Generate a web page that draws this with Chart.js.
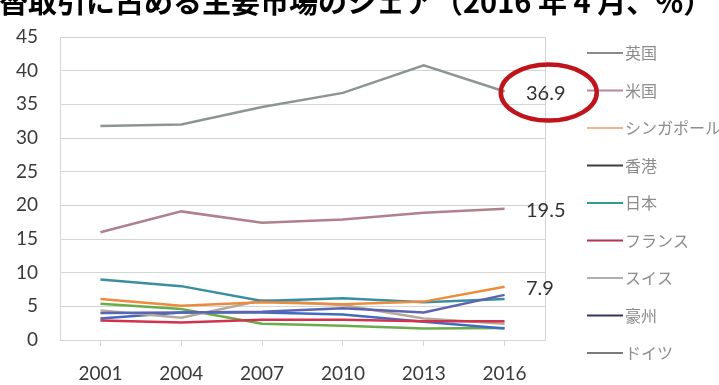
<!DOCTYPE html>
<html lang="ja">
<head>
<meta charset="utf-8">
<script src="https://cdn.jsdelivr.net/npm/chart.js@4.4.1/dist/chart.umd.min.js"></script>
<style>
    html, body { margin: 0; padding: 0; background: #fff; overflow: hidden; }
    #wrap { position: relative; width: 719px; height: 385px; overflow: hidden; }
    #title {
        position: absolute; left: -88px; top: -14px; white-space: nowrap;
        font: bold 29px/29px "Noto Sans CJK JP"; color: #000; z-index: 2;
    }
    #chart { position: absolute; left: 0; top: 0; }
</style>
</head>
<body>
<div id="wrap">
    <div id="title">外国為替取引に占める主要市場のシェア（2016 年 4 月、%）</div>
    <canvas id="chart" width="719" height="385"></canvas>
</div>
<script>
// Data (share of FX turnover, %)
const years = ['2001', '2004', '2007', '2010', '2013', '2016'];
const seriesNames = ['英国', '米国', 'シンガポール', '香港', '日本', 'フランス', 'スイス', '豪州', 'ドイツ'];
const uk          = [31.8, 32.0, 34.6, 36.7, 40.8, 36.9];
const us          = [16.0, 19.1, 17.4, 17.9, 18.9, 19.5];
const singapore   = [6.1, 5.1, 5.6, 5.3, 5.7, 7.9];
const hongKong    = [4.0, 4.1, 4.2, 4.7, 4.1, 6.7];
const japan       = [9.0, 8.0, 5.8, 6.2, 5.6, 6.1];
const france      = [2.9, 2.6, 3.0, 3.0, 2.8, 2.8];
const switzerland = [4.4, 3.3, 5.9, 5.2, 3.2, 2.4];
const australia   = [3.2, 4.1, 4.1, 3.8, 2.7, 1.7];
const germany     = [5.4, 4.6, 2.4, 2.1, 1.7, 1.8];
const yTicks = [0, 5, 10, 15, 20, 25, 30, 35, 40, 45];

// series that get a value label at the right end; first one is circled
const calloutSeries = [0, 1, 2];

const seriesData = [uk, us, singapore, hongKong, japan, france, switzerland, australia, germany];
const seriesColors = ['#8c9595', '#b0808c', '#ee8a3c', '#5a64b0', '#3a8ea0', '#d2324e', '#b5aa9a', '#3f6cc0', '#6aac4c'];
const legendColors = ['#8a8a8a', '#b88a96', '#f3b487', '#3d3d3d', '#2f9e8c', '#b8314f', '#b0b0b0', '#34345e', '#7a7a7a'];

const fontFamily = "Lato, 'Noto Sans', sans-serif";

const sideLegend = {
    id: 'sideLegend',
    afterDraw(chart) {
        const ctx = chart.ctx;
        ctx.save();
        ctx.font = "16px 'Noto Sans CJK JP'";
        ctx.textBaseline = 'middle';
        ctx.textAlign = 'left';
        seriesNames.forEach((name, i) => {
            const y = 53 + i * 37.5;
            ctx.beginPath();
            ctx.moveTo(587, y);
            ctx.lineTo(623, y);
            ctx.strokeStyle = legendColors[i];
            ctx.lineWidth = 2;
            ctx.stroke();
            ctx.fillStyle = '#8c8c8c';
            ctx.fillText(name, 625, y);
        });
        ctx.restore();
    }
};

const callouts = {
    id: 'callouts',
    beforeDatasetsDraw(chart) {
        // right frame line of the plot area
        const ctx = chart.ctx;
        const a = chart.chartArea;
        ctx.save();
        ctx.strokeStyle = '#d4d4d4';
        ctx.lineWidth = 1;
        ctx.beginPath();
        ctx.moveTo(a.right + 0.5, a.top);
        ctx.lineTo(a.right + 0.5, a.bottom);
        ctx.stroke();
        ctx.restore();
    },
    afterDraw(chart) {
        const ctx = chart.ctx;
        const yScale = chart.scales.y;
        const x = chart.chartArea.right - 19;
        ctx.save();
        ctx.font = "20px " + fontFamily;
        ctx.fillStyle = '#333';
        ctx.textBaseline = 'middle';
        ctx.textAlign = 'left';
        calloutSeries.forEach((idx, n) => {
            const values = seriesData[idx];
            const v = values[values.length - 1];
            const y = yScale.getPixelForValue(v) + 2;
            const label = v.toFixed(1);
            ctx.fillText(label, x, y);
            if (n === 0) {
                const w = ctx.measureText(label).width;
                ctx.beginPath();
                ctx.ellipse(x + w / 2 + 3, y - 1, 48, 28, 0, 0, Math.PI * 2);
                ctx.strokeStyle = '#c0141c';
                ctx.lineWidth = 4.5;
                ctx.stroke();
            }
        });
        ctx.restore();
    }
};

new Chart(document.getElementById('chart'), {
    type: 'line',
    data: {
        labels: years,
        datasets: seriesNames.map((name, i) => ({
            label: name,
            data: seriesData[i],
            borderColor: seriesColors[i],
            backgroundColor: seriesColors[i],
            borderWidth: 2.5,
            pointRadius: 0,
            tension: 0,
            fill: false
        }))
    },
    options: {
        responsive: false,
        animation: false,
        layout: { padding: { top: 37, right: 174, left: 0, bottom: 0 } },
        plugins: {
            legend: { display: false },
            tooltip: { enabled: false }
        },
        scales: {
            x: {
                offset: true,
                afterFit: (scale) => { scale.height = 45; },
                grid: { display: true, drawOnChartArea: false, tickLength: 6, color: '#d4d4d4' },
                border: { display: true, color: '#d4d4d4' },
                ticks: { color: '#3a3a3a', padding: 16, font: { family: fontFamily, size: 19 } }
            },
            y: {
                min: 0,
                max: 45,
                afterFit: (scale) => { scale.width = 60; },
                afterBuildTicks: (scale) => { scale.ticks = yTicks.map(v => ({ value: v })); },
                grid: { color: '#d4d4d4', drawTicks: false },
                border: { display: true, color: '#d4d4d4' },
                ticks: { color: '#3a3a3a', padding: 22, font: { family: fontFamily, size: 19 } }
            }
        }
    },
    plugins: [sideLegend, callouts]
});
</script>
</body>
</html>
